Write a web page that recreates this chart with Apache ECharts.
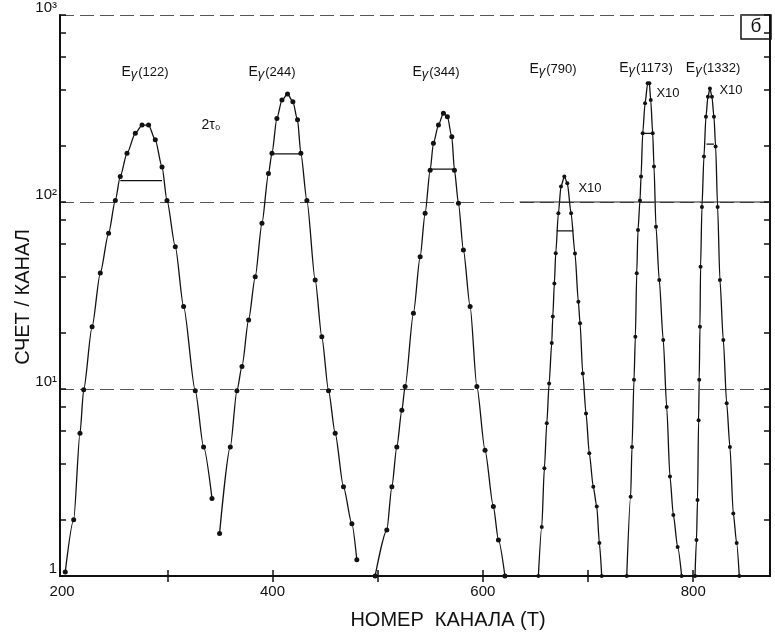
<!DOCTYPE html>
<html>
<head>
<meta charset="utf-8">
<script src="https://cdn.jsdelivr.net/npm/echarts@6.0.0/dist/echarts.min.js"></script>
<style>
  html, body { margin: 0; padding: 0; background: #fff; }
  #chart { width: 775px; height: 633px; }
</style>
</head>
<body>
<div id="chart"></div>
<script>
// channel numbers and counts
const peak122X = [203, 211, 217, 220.5, 228.5, 236.3, 244.2, 250.6, 255.3, 261.7, 269.6, 276, 282.2, 288.6, 295, 299.7, 307.6, 315.5, 326.6, 334.5, 342.5];
const peak122Y = [1.05, 2.0, 5.8, 9.9, 21.5, 41.7, 68, 102, 137, 182, 233, 258, 258, 215, 154, 102, 57.7, 27.6, 9.8, 4.9, 2.6];

const peak244X = [349.7, 359.9, 366.2, 371, 377.3, 383.6, 390, 396.2, 399.5, 404.2, 409, 414.3, 419.4, 423.8, 427, 432.7, 440.6, 446.9, 453.3, 459.6, 467.5, 475.5, 480.2];
const peak244Y = [1.69, 4.9, 9.8, 13.2, 23.4, 39.8, 77, 142, 182, 280, 351, 378, 344, 275, 182, 102, 38.3, 19, 9.8, 5.8, 3.0, 1.9, 1.22];

const peak344X = [497.6, 508.7, 513.5, 518.2, 523, 526.1, 534, 540.4, 545.1, 549.9, 553, 557.8, 562.5, 566.3, 570.5, 573, 576.8, 581.5, 587.9, 594.3, 602.1, 610, 614.8, 621];
const peak344Y = [1.0, 1.76, 3.0, 4.9, 7.7, 10.3, 25.4, 51, 87, 148, 206, 258, 298, 286, 223, 148, 98.4, 55.4, 27.6, 10.3, 4.7, 2.35, 1.56, 1.0];

const peak790X = [652.8, 656, 658.5, 660.8, 663, 665.5, 666.5, 668, 669.3, 671.8, 674.3, 677.5, 680.3, 683.9, 687.6, 690.8, 692.4, 695, 698.1, 701.2, 705, 708.3, 710.8, 713];
const peak790Y = [1.0, 1.83, 3.77, 6.55, 10.7, 17.6, 24.4, 36.7, 53.2, 87, 121, 137, 126, 87, 53, 29.3, 22.5, 12.1, 7.4, 4.53, 3.0, 2.35, 1.5, 1.0];

const peak1173X = [736.8, 740.5, 741.8, 743.7, 745, 746.3, 747.5, 749.4, 750.4, 752, 754.2, 756.7, 758.3, 759.6, 761.5, 762.7, 764.6, 767.7, 771.5, 774.8, 777.9, 781.1, 785.2, 789];
const peak1173Y = [1.0, 2.65, 4.9, 11.2, 19, 41.6, 70.8, 102, 137, 233, 337, 431, 431, 351, 233, 155, 73.8, 38.3, 18.3, 8.0, 3.4, 2.12, 1.43, 1.0];

const peak1332X = [801.7, 803.1, 804.1, 805.1, 805.7, 806.4, 807, 808.3, 810.2, 812.1, 814, 815.9, 817.8, 819.7, 821.3, 823.2, 825.4, 828.6, 831.8, 834.9, 838.1, 841.3, 843.8];
const peak1332Y = [1.0, 1.56, 2.55, 6.8, 11.2, 21.5, 45, 94, 175, 286, 366, 405, 366, 286, 198, 94, 38.3, 18.3, 8.4, 4.9, 2.16, 1.5, 1.0];

// half-maximum markers (2τ0)
const halfMaxX1 = [255.3, 399.5, 549.9, 670.2, 752, 812.6];
const halfMaxX2 = [295, 428, 573, 686, 762, 819.7];
const halfMaxY = [130, 181, 150, 70, 233, 204];

// solid reference line at 10^2 on the right
const refLineX = [635, 873];
const refLineY = [100, 100];

// axis ticks / labels
const xTickVals = [300, 400, 500, 600, 700, 800];
const xLabelVals = [200, 400, 600, 800];
const yTickCounts = [1, 2, 4, 6, 8, 10, 20, 40, 60, 80, 100, 200, 400, 600, 800, 1000];
const yTickLabels = ['1', '10¹', '10²', '10³'];

const peakNames = ['122', '244', '344', '790', '1173', '1332'];
const peakXs = [peak122X, peak244X, peak344X, peak790X, peak1173X, peak1332X];
const peakYs = [peak122Y, peak244Y, peak344Y, peak790Y, peak1173Y, peak1332Y];

const lg = (v) => Math.log10(v);
const INK = '#111';
const FONT = 'Liberation Sans';

let chart = echarts.init(document.getElementById('chart'));

let series = [];
peakXs.forEach((xs, k) => {
  series.push({
    name: 'E' + peakNames[k],
    type: 'line',
    data: xs.map((x, i) => [x, lg(peakYs[k][i])]),
    smooth: 0.25,
    smoothMonotone: 'x',
    symbol: 'circle',
    symbolSize: k < 3 ? 5 : 4,
    itemStyle: { color: INK },
    lineStyle: { color: INK, width: 1.3 },
    silent: true,
    z: 3,
  });
});
halfMaxY.forEach((y, i) => {
  series.push({
    type: 'line',
    data: [[halfMaxX1[i], lg(y)], [halfMaxX2[i], lg(y)]],
    symbol: 'none',
    lineStyle: { color: INK, width: 1.2 },
    silent: true,
  });
});
series.push({
  type: 'line',
  data: refLineX.map((x, i) => [x, lg(refLineY[i])]),
  symbol: 'none',
  lineStyle: { color: '#222', width: 1.2 },
  silent: true,
});

const yTicks = yTickCounts.map(lg);
const tickStyle = { color: INK, width: 1.5 };

const option = {
  animation: false,
  backgroundColor: '#fff',
  grid: { left: 60, right: 5, top: 15, bottom: 57, containLabel: false },
  xAxis: [
    {
      type: 'value', min: 198, max: 873, position: 'bottom',
      axisLine: { lineStyle: { color: INK, width: 2 } },
      axisTick: { show: true, inside: true, length: 6, customValues: xTickVals, lineStyle: tickStyle },
      axisLabel: { customValues: xLabelVals, fontSize: 15, fontFamily: FONT, color: INK, margin: 8 },
      splitLine: { show: false },
    },
    {
      type: 'value', min: 198, max: 873, position: 'top',
      axisLine: { lineStyle: { color: INK, width: 2 } },
      axisTick: { show: true, inside: true, length: 6, customValues: xTickVals, lineStyle: tickStyle },
      axisLabel: { show: false },
      splitLine: { show: false },
    },
  ],
  yAxis: [
    {
      // decades: labels and dashed grid lines
      type: 'value', min: 0, max: 3, interval: 1, position: 'left',
      axisLine: { show: true, lineStyle: { color: INK, width: 2 } },
      axisTick: { show: true, inside: true, length: 6, lineStyle: tickStyle },
      axisLabel: {
        fontSize: 15, fontFamily: FONT, color: INK, margin: 3, verticalAlign: 'bottom',
        formatter: (v) => yTickLabels[Math.round(v)],
      },
      splitLine: { show: true, lineStyle: { color: '#555', width: 1, type: [14, 6] } },
    },
    {
      // minor log ticks on the left
      type: 'value', min: 0, max: 3, position: 'left', offset: 0,
      axisLine: { show: false },
      axisTick: { show: true, inside: true, length: 6, customValues: yTicks, lineStyle: tickStyle },
      axisLabel: { show: false },
      splitLine: { show: false },
    },
    {
      type: 'value', min: 0, max: 3, position: 'right',
      axisLine: { show: true, lineStyle: { color: INK, width: 2 } },
      axisTick: { show: true, inside: true, length: 6, customValues: yTicks, lineStyle: tickStyle },
      axisLabel: { show: false },
      splitLine: { show: false },
    },
  ],
  graphic: [
    { type: 'text', x: 23, y: 297, rotation: Math.PI / 2,
      style: { text: 'СЧЕТ / КАНАЛ', fontSize: 20, fontFamily: FONT, fill: INK, textAlign: 'center', textVerticalAlign: 'middle' } },
    { type: 'text', x: 448, y: 620,
      style: { text: 'НОМЕР  КАНАЛА (Т)', fontSize: 20, fontFamily: FONT, fill: INK, textAlign: 'center', textVerticalAlign: 'middle' } },
    { type: 'rect', shape: { x: 741, y: 15, width: 30, height: 24 }, style: { fill: '#fff', stroke: INK, lineWidth: 1.5 } },
    { type: 'text', x: 756, y: 27,
      style: { text: 'б', fontSize: 19, fontFamily: FONT, fill: INK, textAlign: 'center', textVerticalAlign: 'middle' } },
    { type: 'text', x: 211, y: 125,
      style: { text: '2τ₀', fontSize: 14, fontFamily: FONT, fill: INK, textAlign: 'center', textVerticalAlign: 'middle' } },
    { type: 'text', x: 668, y: 93, style: { text: 'X10', fontSize: 13, fontFamily: FONT, fill: INK, textAlign: 'center', textVerticalAlign: 'middle' } },
    { type: 'text', x: 731, y: 90, style: { text: 'X10', fontSize: 13, fontFamily: FONT, fill: INK, textAlign: 'center', textVerticalAlign: 'middle' } },
    { type: 'text', x: 590, y: 188, style: { text: 'X10', fontSize: 13, fontFamily: FONT, fill: INK, textAlign: 'center', textVerticalAlign: 'middle' } },
  ].concat([[145, 72], [272, 72], [436, 72], [553, 69], [646, 68], [713, 68]].map((p, i) => ({
    type: 'text', x: p[0], y: p[1],
    style: {
      text: '{e|E}{g|γ}{p|(' + peakNames[i] + ')}',
      textAlign: 'center', textVerticalAlign: 'middle',
      rich: {
        e: { fontSize: 14, fontFamily: FONT, fill: INK },
        g: { fontSize: 13, fontFamily: FONT, fill: INK, fontStyle: 'italic', padding: [5, 1, 0, 0] },
        p: { fontSize: 13, fontFamily: FONT, fill: INK },
      },
    },
  }))),
  series: series,
};

chart.setOption(option);
</script>
</body>
</html>
